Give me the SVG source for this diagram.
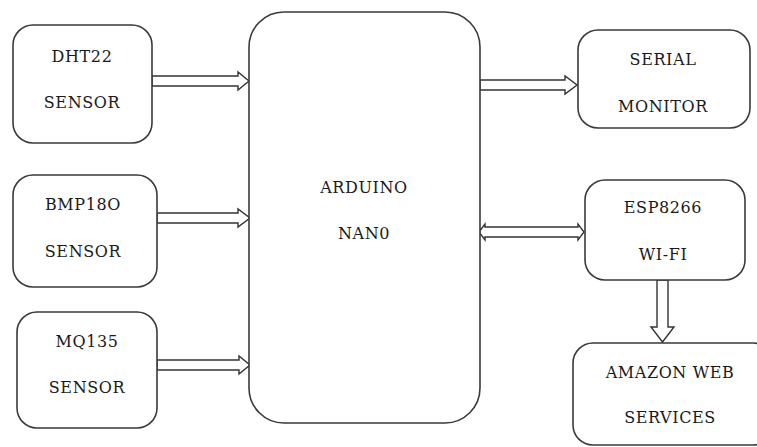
<svg xmlns="http://www.w3.org/2000/svg" width="757" height="447" viewBox="0 0 757 447">
<style>
.box{fill:#fff;stroke:#3a3a3a;stroke-width:1.6}
.lbl{font-family:"DejaVu Serif","Liberation Serif",serif;font-size:16px;fill:#1a1a1a;text-anchor:middle;letter-spacing:0.6px}
.arr{fill:#fff;stroke:#333;stroke-width:1.4;stroke-linejoin:miter}
</style>
<rect width="757" height="447" fill="#fff"/>
<g id="connectors">
<polygon class="arr" points="152,76 238,76 238,72 249,81 238,90 238,86 152,86"/>
<polygon class="arr" points="157,213 238,213 238,209 250,218 238,227 238,223 157,223"/>
<polygon class="arr" points="157,360 239,360 239,356 250,365 239,374 239,370 157,370"/>
<polygon class="arr" points="480,80 565,80 565,76 577,85 565,94 565,90 480,90"/>
<polygon class="arr" points="479,232 485,224 485,227 578,227 578,224 584,232 578,240 578,237 485,237 485,240"/>
<polygon class="arr" points="657,280 668,280 668,327 674,327 662.5,342 651,327 657,327"/>
</g>
<g id="dht22">
<rect class="box" x="13" y="25" width="139" height="118" rx="20"/>
<text class="lbl" x="82" y="62">DHT22</text>
<text class="lbl" x="82" y="108">SENSOR</text>
</g>
<g id="bmp180">
<rect class="box" x="13" y="175" width="144" height="112" rx="20"/>
<text class="lbl" x="83" y="210">BMP18O</text>
<text class="lbl" x="83" y="257">SENSOR</text>
</g>
<g id="mq135">
<rect class="box" x="17" y="312" width="140" height="116" rx="20"/>
<text class="lbl" x="87" y="347">MQ135</text>
<text class="lbl" x="87" y="393">SENSOR</text>
</g>
<g id="arduino">
<rect class="box" x="249" y="12" width="231" height="411" rx="35"/>
<text class="lbl" x="364" y="193">ARDUINO</text>
<text class="lbl" x="364" y="239">NAN0</text>
</g>
<g id="serial">
<rect class="box" x="578" y="30" width="172" height="98" rx="20"/>
<text class="lbl" x="663" y="65">SERIAL</text>
<text class="lbl" x="663" y="112">MONITOR</text>
</g>
<g id="esp8266">
<rect class="box" x="585" y="180" width="160" height="100" rx="20"/>
<text class="lbl" x="663" y="213">ESP8266</text>
<text class="lbl" x="663" y="260">WI-FI</text>
</g>
<g id="aws">
<rect class="box" x="573" y="343" width="200" height="102" rx="20"/>
<text class="lbl" x="670" y="378">AMAZON WEB</text>
<text class="lbl" x="670" y="423">SERVICES</text>
</g>
</svg>
